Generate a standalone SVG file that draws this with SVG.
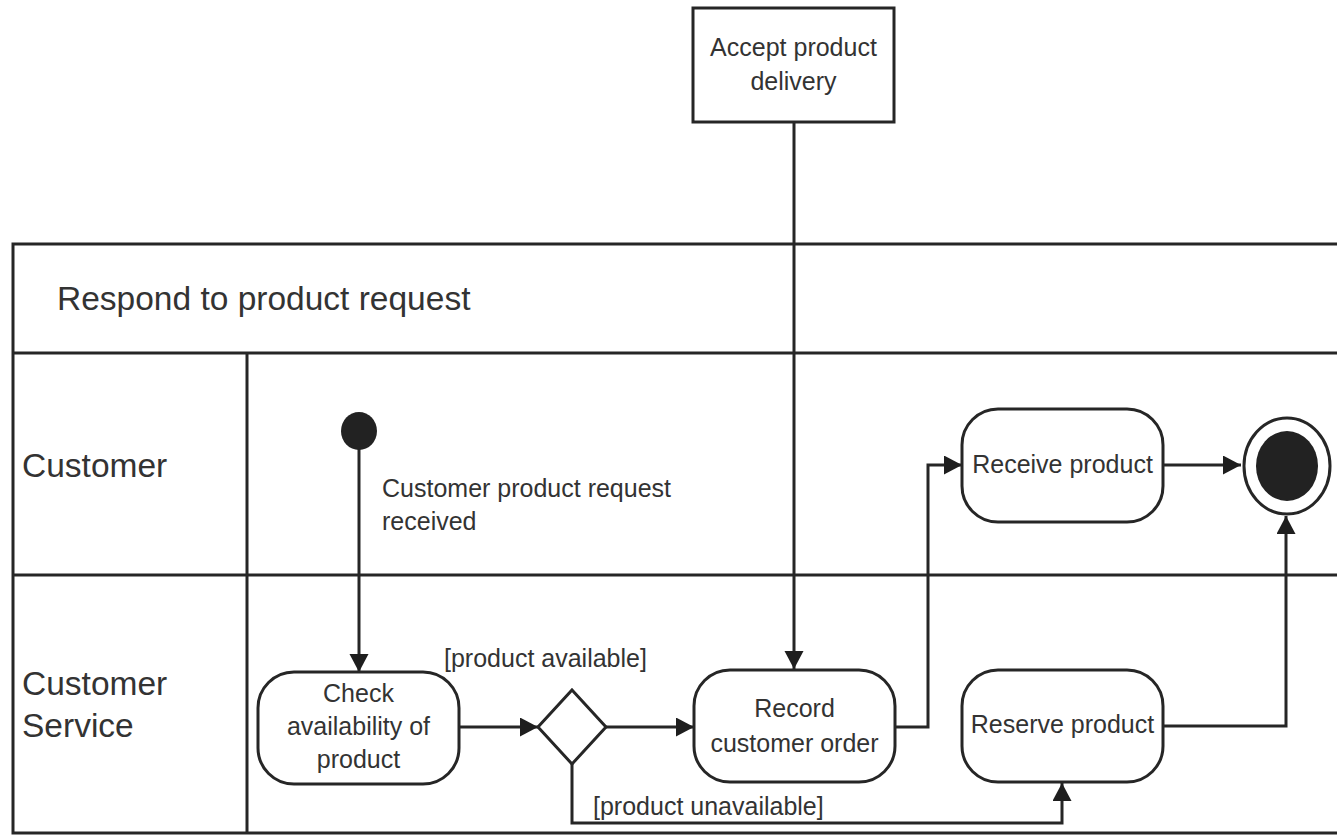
<svg xmlns="http://www.w3.org/2000/svg" width="1337" height="835" viewBox="0 0 1337 835">
<style>
.ln{fill:none;stroke:#262626;stroke-width:3}
.box{fill:#fff;stroke:#262626;stroke-width:3}
.t{font-family:"Liberation Sans",Arial,sans-serif;fill:#333}
.s{font-size:25px}
.b{font-size:33.5px}
.c{text-anchor:middle}
</style>
<defs>
<marker id="arr" markerUnits="userSpaceOnUse" markerWidth="20" markerHeight="20" refX="18" refY="9.5" orient="auto">
<path d="M0,0 L18,9.5 L0,19 z" fill="#1e1e1e"/>
</marker>
</defs>
<rect width="1337" height="835" fill="#fff"/>
<g id="frame">
<path class="ln" d="M1340,244 H13 V833 H1340"/>
<line class="ln" x1="13" y1="353" x2="1340" y2="353"/>
<line class="ln" x1="13" y1="575" x2="1340" y2="575"/>
<line class="ln" x1="247" y1="353" x2="247" y2="833"/>
<text class="t b" x="57" y="310">Respond to product request</text>
<text class="t b" x="22" y="477">Customer</text>
<text class="t b" x="22" y="695">Customer</text>
<text class="t b" x="22" y="737">Service</text>
</g>
<g id="connectors">
<line class="ln" x1="359" y1="440" x2="359" y2="672" marker-end="url(#arr)"/>
<line class="ln" x1="794" y1="122" x2="794" y2="669" marker-end="url(#arr)"/>
<line class="ln" x1="459" y1="727" x2="538" y2="727" marker-end="url(#arr)"/>
<line class="ln" x1="606" y1="727" x2="694" y2="727" marker-end="url(#arr)"/>
<path class="ln" d="M895,727 H928 V465 H962" marker-end="url(#arr)"/>
<line class="ln" x1="1163" y1="465" x2="1241" y2="465" marker-end="url(#arr)"/>
<path class="ln" d="M1163,726 H1286 V516" marker-end="url(#arr)"/>
<path class="ln" d="M572,764 V823 H1062 V783" marker-end="url(#arr)"/>
<text class="t s" x="382" y="497">Customer product request</text>
<text class="t s" x="382" y="530">received</text>
<text class="t s" x="444" y="667">[product available]</text>
<text class="t s" x="593" y="815">[product unavailable]</text>
</g>
<g id="accept">
<rect class="box" x="693" y="8" width="201" height="114"/>
<text class="t s c" x="793.5" y="56">Accept product</text>
<text class="t s c" x="793.5" y="90">delivery</text>
</g>
<g id="start">
<ellipse cx="359" cy="431" rx="18" ry="19" fill="#222"/>
</g>
<g id="check">
<rect class="box" x="258" y="672" width="201" height="112" rx="36"/>
<text class="t s c" x="358.5" y="702">Check</text>
<text class="t s c" x="358.5" y="735">availability of</text>
<text class="t s c" x="358.5" y="768">product</text>
</g>
<g id="decision">
<polygon class="box" points="572,690 606,727 572,764 538,727"/>
</g>
<g id="record">
<rect class="box" x="694" y="670" width="201" height="112" rx="36"/>
<text class="t s c" x="794.5" y="717">Record</text>
<text class="t s c" x="794.5" y="752">customer order</text>
</g>
<g id="receive">
<rect class="box" x="962" y="409" width="201" height="113" rx="36"/>
<text class="t s c" x="1062.5" y="473">Receive product</text>
</g>
<g id="reserve">
<rect class="box" x="962" y="670" width="201" height="112" rx="36"/>
<text class="t s c" x="1062.5" y="733">Reserve product</text>
</g>
<g id="end">
<ellipse cx="1287" cy="466" rx="43" ry="48" fill="#fff" stroke="#262626" stroke-width="3"/>
<ellipse cx="1287" cy="466" rx="31" ry="35" fill="#222"/>
</g>
</svg>
